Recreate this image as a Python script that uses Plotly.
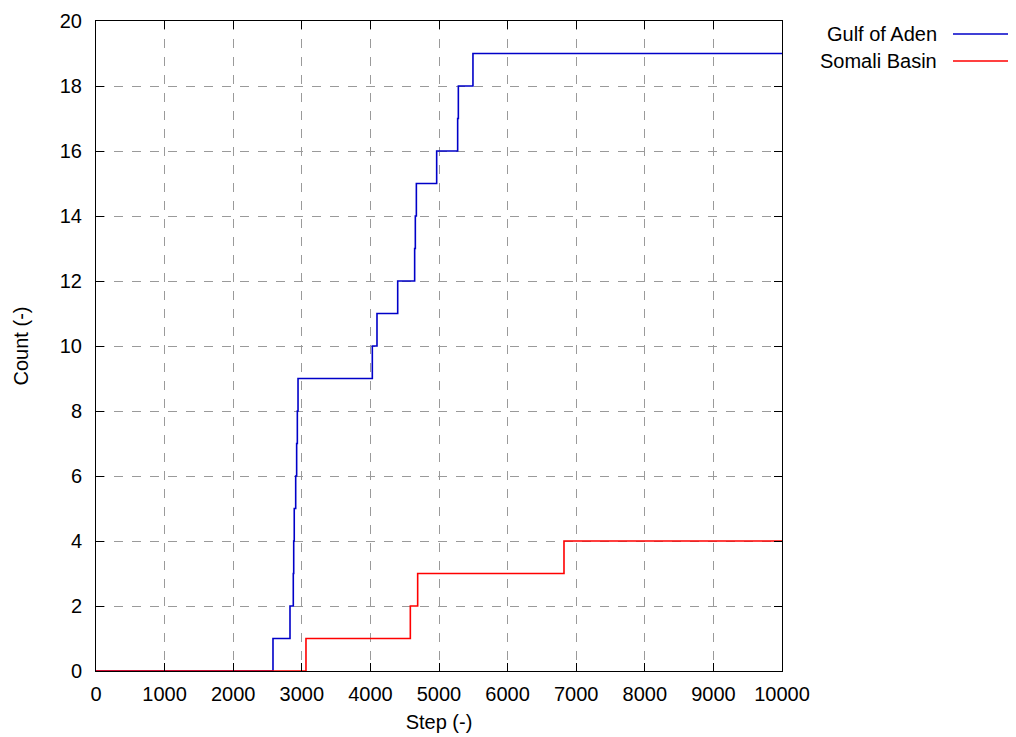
import plotly.graph_objects as go

# Data (step functions)
gulf_step = [0, 2580, 2828, 2876, 2882, 2890, 2911, 2925, 2935, 2945, 4028, 4096,
             4398, 4645, 4655, 4670, 4966, 5272, 5282, 5495, 10000]
gulf_count = [0, 1, 2, 3, 4, 5, 6, 7, 8, 9, 10, 11, 12, 13, 14, 15, 16, 17, 18, 19, 19]

somali_step = [0, 3061, 4582, 4689, 6822, 10000]
somali_count = [0, 1, 2, 3, 4, 4]

series_names = ["Gulf of Aden", "Somali Basin"]
series_colors = ["#0000c8", "#ff0000"]

x_ticks = list(range(0, 10001, 1000))
y_ticks = list(range(0, 21, 2))

FONT = "Liberation Sans, Arial, sans-serif"
FS = 20

fig = go.Figure()
fig.add_trace(go.Scatter(x=gulf_step, y=gulf_count, mode="lines", line_shape="hv",
                         line=dict(color=series_colors[0], width=1.6),
                         name=series_names[0], showlegend=False))
fig.add_trace(go.Scatter(x=somali_step, y=somali_count, mode="lines", line_shape="hv",
                         line=dict(color=series_colors[1], width=1.6),
                         name=series_names[1], showlegend=False))

axis_common = dict(
    showline=True, linecolor="black", linewidth=1, mirror="allticks",
    ticks="inside", ticklen=8, tickcolor="black", tickwidth=1,
    showgrid=True, gridcolor="#9a9a9a", griddash="dash", gridwidth=1,
    zeroline=False, automargin=False,
    tickfont=dict(family=FONT, size=FS, color="black"),
)

fig.update_xaxes(range=[0, 10000], tickvals=x_ticks, ticktext=[str(v) for v in x_ticks],
                 ticklabelstandoff=5,
                 title=dict(text="Step (-)", font=dict(family=FONT, size=FS, color="black"), standoff=10),
                 **axis_common)
fig.update_yaxes(range=[0, 20], tickvals=y_ticks, ticktext=[str(v) for v in y_ticks],
                 ticklabelstandoff=9,
                 title=dict(text="Count (-)", font=dict(family=FONT, size=FS, color="black"), standoff=25),
                 **axis_common)

# Legend (gnuplot style: text right-aligned, line sample to the right)
# Positions expressed relative to the plot area (screen x 96..782, y 21..671)
legend_y = [34, 61]
for name, color, yy in zip(series_names, series_colors, legend_y):
    fig.add_annotation(xref="paper", yref="paper", x=(939 - 96) / 686, y=1 - (yy - 21) / 650,
                       xanchor="right", yanchor="middle", text=name, showarrow=False,
                       font=dict(family=FONT, size=FS, color="black"))
    fig.add_shape(type="line", xref="paper", yref="paper",
                  x0=(953 - 96) / 686, x1=(1011 - 96) / 686,
                  y0=1 - (yy - 21) / 650, y1=1 - (yy - 21) / 650,
                  line=dict(color=color, width=1.6))

# Page body has an 8px margin, so the figure is offset by (8, 8) on screen
fig.update_layout(
    width=1008, height=729,
    margin=dict(l=88, r=234, t=13, b=66),
    plot_bgcolor="white", paper_bgcolor="white",
    font=dict(family=FONT, size=FS, color="black"),
)

fig.write_html("out.html")
